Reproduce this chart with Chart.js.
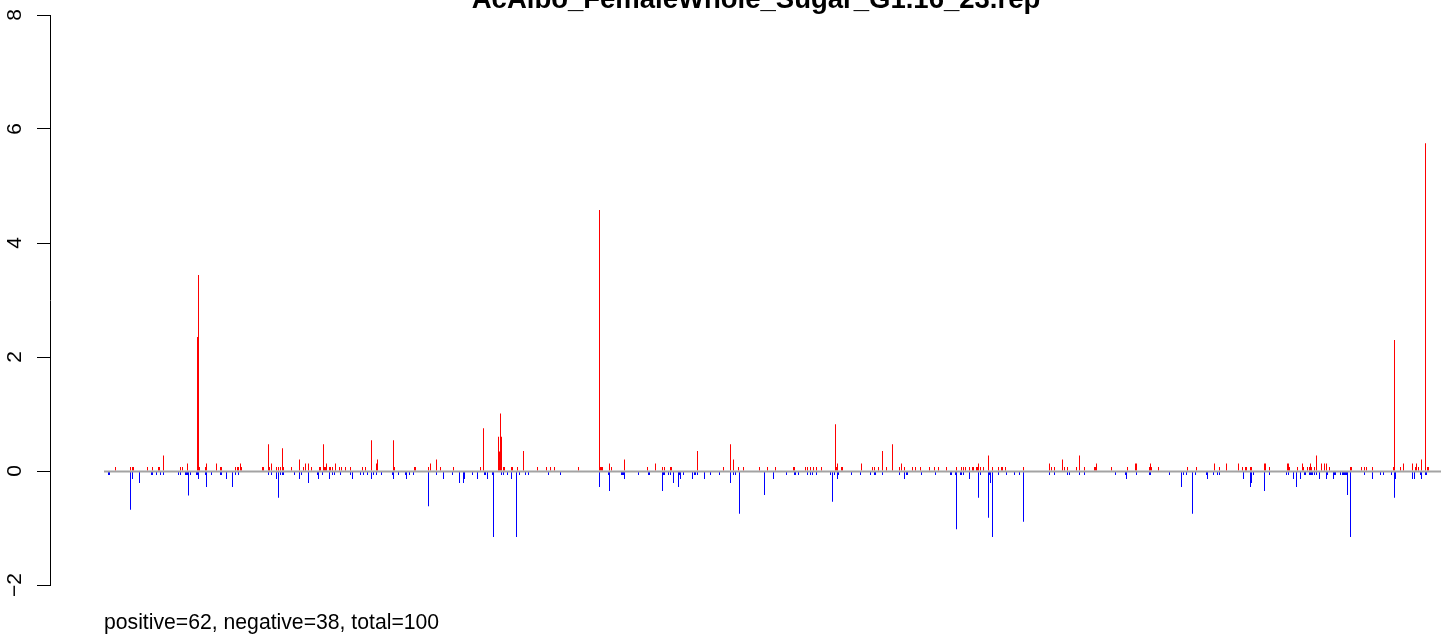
<!DOCTYPE html>
<html>
<head>
<meta charset="utf-8">
<script src="https://cdn.jsdelivr.net/npm/chart.js@4.4.1/dist/chart.umd.min.js"></script>
<style>
  html, body { margin: 0; padding: 0; background: #ffffff; }
  #chart { display: block; }
</style>
</head>
<body>
<canvas id="chart" width="1441" height="636"></canvas>
<script>
// Plot labels
const plotTitle = "AcAlbo_FemaleWhole_Sugar_G1.16_23.rep";
const summaryText = "positive=62, negative=38, total=100";

// Y axis range and tick step
const yMin = -2;
const yMax = 8;
const yStep = 2;

// Positive scores (drawn red): position along the sequence and value
const upPos = [
  15, 30, 32, 33, 47, 52, 58, 59, 63, 80,
  82, 87, 97, 98, 99, 105, 106, 116, 120, 121,
  135, 137, 138, 140, 141, 162, 163, 168, 169, 171,
  176, 178, 180, 182, 183, 191, 199, 203, 205, 208,
  211, 219, 220, 223, 224, 225, 226, 229, 230, 232,
  235, 239, 241, 245, 250, 262, 265, 271, 276, 277,
  293, 294, 314, 315, 328, 330, 336, 340, 353, 380,
  383, 398, 399, 400, 401, 403, 404, 411, 412, 417,
  423, 437, 446, 450, 454, 478, 499, 500, 501, 502,
  509, 511, 524, 547, 555, 562, 564, 570, 571, 597,
  623, 630, 633, 638, 643, 659, 667, 675, 693, 694,
  705, 707, 710, 713, 716, 721, 735, 736, 737, 741,
  742, 761, 772, 774, 778, 782, 786, 792, 799, 801,
  804, 812, 815, 820, 829, 834, 838, 846, 856, 861,
  863, 865, 869, 872, 873, 876, 877, 878, 880, 883,
  888, 892, 898, 901, 902, 905, 923, 949, 951, 954,
  962, 964, 967, 976, 979, 984, 994, 995, 996, 1011,
  1027, 1035, 1036, 1049, 1050, 1051, 1058, 1087, 1096, 1114,
  1119, 1126, 1138, 1142, 1145, 1146, 1150, 1151, 1164, 1165,
  1169, 1187, 1188, 1189, 1197, 1202, 1203, 1207, 1209, 1210,
  1211, 1214, 1216, 1221, 1224, 1226, 1229, 1250, 1251, 1261,
  1264, 1266, 1272, 1293, 1294, 1300, 1303, 1312, 1315, 1316,
  1318, 1321, 1325, 1327, 1328
];
const upVal = [
  0.07, 0.07, 0.07, 0.07, 0.07, 0.07, 0.07, 0.07, 0.27, 0.07,
  0.07, 0.13, 2.35, 3.44, 0.07, 0.07, 0.13, 0.13, 0.07, 0.07,
  0.07, 0.07, 0.07, 0.13, 0.07, 0.07, 0.07, 0.47, 0.07, 0.13,
  0.07, 0.07, 0.07, 0.40, 0.07, 0.07, 0.20, 0.07, 0.13, 0.13,
  0.07, 0.07, 0.07, 0.47, 0.07, 0.07, 0.13, 0.07, 0.07, 0.07,
  0.13, 0.07, 0.07, 0.07, 0.07, 0.07, 0.07, 0.54, 0.13, 0.20,
  0.54, 0.07, 0.07, 0.07, 0.07, 0.13, 0.20, 0.07, 0.07, 0.07,
  0.75, 0.60, 0.34, 1.01, 0.60, 0.07, 0.07, 0.07, 0.07, 0.07,
  0.35, 0.07, 0.07, 0.07, 0.07, 0.07, 4.58, 0.07, 0.07, 0.07,
  0.13, 0.07, 0.20, 0.07, 0.13, 0.07, 0.07, 0.07, 0.07, 0.35,
  0.07, 0.47, 0.20, 0.07, 0.07, 0.07, 0.07, 0.07, 0.07, 0.07,
  0.07, 0.07, 0.07, 0.07, 0.07, 0.07, 0.82, 0.07, 0.13, 0.07,
  0.07, 0.13, 0.07, 0.07, 0.07, 0.35, 0.07, 0.47, 0.07, 0.13,
  0.07, 0.07, 0.07, 0.07, 0.07, 0.07, 0.07, 0.07, 0.07, 0.07,
  0.07, 0.07, 0.07, 0.07, 0.07, 0.07, 0.07, 0.13, 0.07, 0.07,
  0.27, 0.07, 0.07, 0.07, 0.07, 0.07, 0.07, 0.13, 0.07, 0.07,
  0.20, 0.07, 0.07, 0.07, 0.27, 0.07, 0.07, 0.07, 0.13, 0.07,
  0.07, 0.13, 0.13, 0.07, 0.13, 0.07, 0.07, 0.07, 0.07, 0.13,
  0.07, 0.13, 0.13, 0.07, 0.07, 0.07, 0.07, 0.07, 0.13, 0.13,
  0.07, 0.13, 0.13, 0.07, 0.07, 0.13, 0.07, 0.07, 0.07, 0.13,
  0.07, 0.07, 0.27, 0.13, 0.13, 0.13, 0.07, 0.07, 0.07, 0.07,
  0.07, 0.07, 0.07, 0.07, 2.30, 0.07, 0.13, 0.13, 0.07, 0.13,
  0.07, 0.20, 5.75, 0.07, 0.07
];

// Negative scores (drawn blue): position along the sequence and value
const downPos = [
  8, 9, 30, 32, 39, 51, 52, 56, 60, 63,
  78, 80, 85, 86, 87, 88, 90, 96, 97, 98,
  105, 106, 111, 120, 121, 126, 132, 135, 138, 168,
  171, 176, 178, 180, 182, 183, 194, 199, 201, 208,
  217, 218, 222, 229, 232, 234, 240, 250, 252, 260,
  263, 267, 271, 273, 276, 281, 292, 293, 298, 305,
  306, 309, 313, 328, 336, 343, 352, 359, 363, 364,
  372, 377, 384, 385, 387, 392, 393, 401, 403, 407,
  411, 416, 419, 425, 428, 448, 460, 499, 508, 509,
  521, 522, 523, 524, 538, 548, 549, 562, 563, 564,
  568, 570, 573, 578, 579, 580, 583, 592, 594, 595,
  597, 604, 610, 619, 630, 633, 635, 639, 664, 673,
  686, 694, 695, 698, 707, 710, 712, 716, 730, 732,
  734, 737, 738, 751, 760, 770, 774, 775, 782, 799,
  804, 806, 807, 821, 835, 850, 851, 855, 856, 860,
  861, 863, 869, 878, 880, 888, 889, 890, 892, 898,
  906, 914, 919, 923, 949, 954, 967, 969, 979, 984,
  1015, 1025, 1026, 1036, 1049, 1050, 1069, 1081, 1083, 1086,
  1092, 1095, 1106, 1107, 1113, 1117, 1119, 1143, 1150, 1151,
  1153, 1164, 1169, 1186, 1188, 1193, 1196, 1200, 1204, 1205,
  1209, 1210, 1211, 1212, 1214, 1216, 1219, 1226, 1227, 1233,
  1234, 1235, 1240, 1242, 1243, 1244, 1245, 1246, 1247, 1250,
  1264, 1272, 1280, 1283, 1291, 1294, 1295, 1312, 1314, 1320,
  1321, 1325, 1326
];
const downVal = [
  -0.07, -0.07, -0.68, -0.14, -0.21, -0.07, -0.07, -0.07, -0.07, -0.07,
  -0.07, -0.07, -0.07, -0.07, -0.07, -0.43, -0.07, -0.07, -0.07, -0.14,
  -0.07, -0.28, -0.07, -0.07, -0.07, -0.14, -0.28, -0.07, -0.07, -0.07,
  -0.07, -0.14, -0.47, -0.07, -0.07, -0.07, -0.07, -0.14, -0.07, -0.21,
  -0.07, -0.14, -0.07, -0.14, -0.07, -0.07, -0.07, -0.07, -0.14, -0.07,
  -0.07, -0.07, -0.14, -0.07, -0.07, -0.07, -0.07, -0.14, -0.07, -0.07,
  -0.14, -0.07, -0.07, -0.62, -0.07, -0.14, -0.07, -0.21, -0.21, -0.14,
  -0.07, -0.14, -0.07, -0.07, -0.14, -0.07, -1.16, -0.07, -0.07, -0.07,
  -0.14, -1.16, -0.07, -0.07, -0.07, -0.07, -0.07, -0.28, -0.07, -0.35,
  -0.07, -0.07, -0.07, -0.14, -0.07, -0.07, -0.07, -0.35, -0.07, -0.07,
  -0.07, -0.07, -0.21, -0.28, -0.07, -0.14, -0.07, -0.14, -0.07, -0.07,
  -0.07, -0.14, -0.07, -0.07, -0.21, -0.07, -0.07, -0.75, -0.42, -0.14,
  -0.07, -0.07, -0.07, -0.07, -0.07, -0.07, -0.07, -0.07, -0.07, -0.54,
  -0.07, -0.14, -0.07, -0.07, -0.07, -0.07, -0.07, -0.07, -0.07, -0.07,
  -0.14, -0.07, -0.07, -0.07, -0.07, -0.07, -0.07, -0.07, -1.02, -0.07,
  -0.07, -0.07, -0.14, -0.47, -0.07, -0.82, -0.07, -0.21, -1.16, -0.07,
  -0.07, -0.07, -0.07, -0.89, -0.07, -0.07, -0.07, -0.07, -0.07, -0.07,
  -0.07, -0.07, -0.14, -0.07, -0.07, -0.07, -0.07, -0.28, -0.07, -0.07,
  -0.75, -0.07, -0.07, -0.14, -0.07, -0.07, -0.07, -0.14, -0.28, -0.21,
  -0.07, -0.35, -0.07, -0.07, -0.07, -0.14, -0.28, -0.14, -0.07, -0.07,
  -0.07, -0.07, -0.07, -0.07, -0.07, -0.07, -0.14, -0.14, -0.07, -0.14,
  -0.07, -0.07, -0.07, -0.07, -0.07, -0.07, -0.07, -0.07, -0.42, -1.16,
  -0.07, -0.14, -0.07, -0.07, -0.07, -0.47, -0.14, -0.14, -0.14, -0.07,
  -0.14, -0.07, -0.07
];

const FONT = "'Liberation Sans', Arial, Helvetica, sans-serif";

const toPoints = (pos, val) => pos.map((p, i) => ({ x: p, y: val[i] }));

// Gray zero line, R-style rotated tick labels, title and summary line
const decorations = {
  id: 'decorations',
  afterDatasetsDraw(chart) {
    const { ctx, chartArea, scales } = chart;
    const xs = scales.x, ys = scales.y;
    const firstPos = Math.min(Math.min(...upPos), Math.min(...downPos));
    const y0 = ys.getPixelForValue(0);
    ctx.save();
    ctx.strokeStyle = '#a3a3a3';
    ctx.lineWidth = 2;
    ctx.beginPath();
    ctx.moveTo(xs.getPixelForValue(firstPos - 4.5), y0 + 0.6);
    ctx.lineTo(chartArea.right, y0 + 0.6);
    ctx.stroke();
    ctx.restore();
  },
  afterDraw(chart) {
    const { ctx, scales } = chart;
    const ys = scales.y;
    ctx.save();
    ctx.fillStyle = '#000000';
    // y tick labels, reading upwards
    ctx.font = '21px ' + FONT;
    ctx.textAlign = 'center';
    ctx.textBaseline = 'alphabetic';
    ys.ticks.forEach(t => {
      const py = ys.getPixelForValue(t.value);
      ctx.save();
      ctx.translate(20.5, py);
      ctx.rotate(-Math.PI / 2);
      ctx.fillText(String(t.value).replace('-', '\u2212'), 0, 0);
      ctx.restore();
    });
    // title, running off the top edge
    ctx.font = 'bold 27.5px ' + FONT;
    ctx.textAlign = 'center';
    ctx.fillText(plotTitle, 756, 8);
    // summary line under the plot
    ctx.font = '21.2px ' + FONT;
    ctx.textAlign = 'left';
    ctx.fillText(summaryText, 104, 629);
    ctx.restore();
  }
};

new Chart(document.getElementById('chart'), {
  type: 'bar',
  data: {
    datasets: [
      {
        label: 'positive',
        data: toPoints(upPos, upVal),
        backgroundColor: '#ff0000',
        borderWidth: 0,
        barThickness: 1,
        grouped: false,
        inflateAmount: 0
      },
      {
        label: 'negative',
        data: toPoints(downPos, downVal),
        backgroundColor: '#0000ff',
        borderWidth: 0,
        barThickness: 1,
        grouped: false,
        inflateAmount: 0
      }
    ]
  },
  options: {
    responsive: false,
    animation: false,
    devicePixelRatio: 1,
    layout: { padding: { left: 0, right: 0, top: 15, bottom: 51 } },
    plugins: {
      legend: { display: false },
      title: { display: false },
      tooltip: { enabled: false }
    },
    scales: {
      x: {
        type: 'linear',
        display: false,
        offset: false,
        min: -50.5,
        max: 1340.5
      },
      y: {
        type: 'linear',
        min: yMin,
        max: yMax,
        ticks: { display: false, stepSize: yStep },
        grid: {
          display: true,
          drawOnChartArea: false,
          drawTicks: true,
          tickLength: 13,
          tickColor: '#000000',
          tickWidth: 1
        },
        border: { display: true, color: '#000000', width: 1 },
        afterFit(scale) { scale.width = 50; }
      }
    }
  },
  plugins: [decorations]
});
</script>
</body>
</html>
